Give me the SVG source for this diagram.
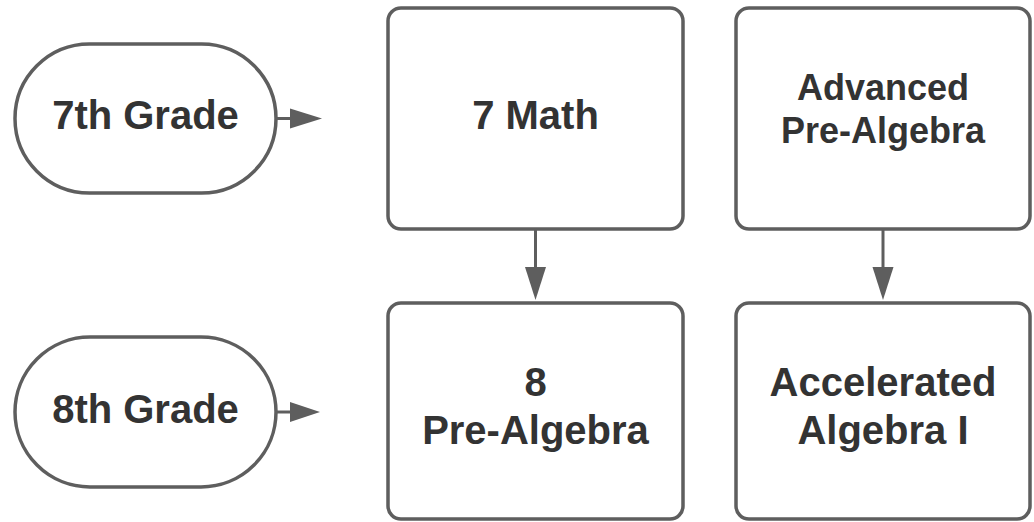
<svg xmlns="http://www.w3.org/2000/svg" width="1034" height="522" viewBox="0 0 1034 522">
<style>
.box{fill:#fff;stroke:#5e5e5e;stroke-width:3.5}
.t{font-family:"Liberation Sans",Arial,sans-serif;font-weight:bold;font-size:40px;fill:#333;text-anchor:middle}
.s{font-size:36px}
.c{stroke:#5e5e5e;stroke-width:3;fill:none}
.h{fill:#5e5e5e}
</style>
<rect width="1034" height="522" fill="#fff"/>
<g id="g7">
<rect class="box" x="15" y="44" width="261" height="149" rx="74.5"/>
<text class="t" x="145.5" y="129">7th Grade</text>
</g>
<g id="g8">
<rect class="box" x="15" y="337" width="261" height="150" rx="75"/>
<text class="t" x="145.5" y="423">8th Grade</text>
</g>
<g id="m7">
<rect class="box" x="388" y="8" width="295" height="221" rx="13"/>
<text class="t" x="535.5" y="129">7 Math</text>
</g>
<g id="apa">
<rect class="box" x="736" y="8" width="294" height="221" rx="13"/>
<text class="t s" x="883" y="100">Advanced</text>
<text class="t s" x="883" y="143">Pre-Algebra</text>
</g>
<g id="pa8">
<rect class="box" x="388" y="303" width="295" height="216" rx="13"/>
<text class="t" x="535.5" y="396">8</text>
<text class="t" x="535.5" y="444">Pre-Algebra</text>
</g>
<g id="aa1">
<rect class="box" x="736" y="303" width="294" height="216" rx="13"/>
<text class="t" x="883" y="396">Accelerated</text>
<text class="t" x="883" y="444">Algebra I</text>
</g>
<g id="connectors">
<path class="c" d="M276 118.5H292"/>
<polygon class="h" points="290,108.5 322,118.5 290,128.5"/>
<path class="c" d="M276 412H292"/>
<polygon class="h" points="290,402 320,412 290,422"/>
<path class="c" d="M535.5 229V269"/>
<polygon class="h" points="525,267 546,267 535.5,300"/>
<path class="c" d="M883 229V269"/>
<polygon class="h" points="872.5,267 893.5,267 883,300"/>
</g>
</svg>
